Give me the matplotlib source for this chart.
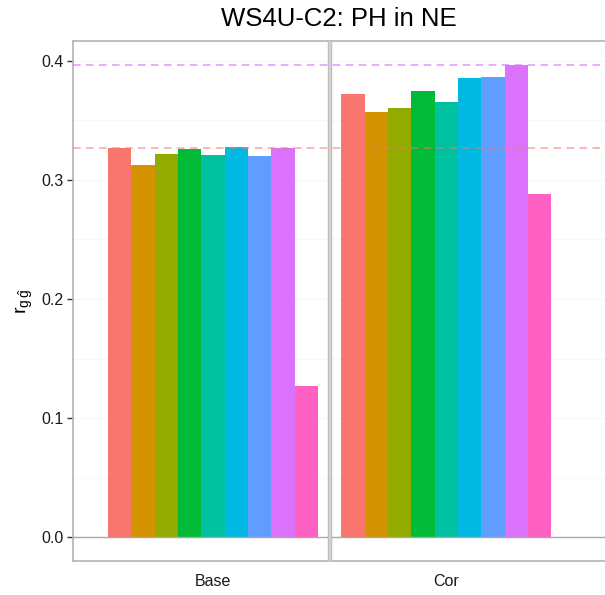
import matplotlib
matplotlib.use("Agg")
import matplotlib.pyplot as plt
import numpy as np

plt.rcParams['font.family'] = ['Liberation Sans', 'DejaVu Sans']
plt.rcParams['mathtext.fontset'] = 'custom'
plt.rcParams['mathtext.rm'] = 'Liberation Sans'

groups = ["Base", "Cor"]
colors = ['#F8766D', '#D39200', '#93AA00', '#00BA38', '#00C19F',
          '#00B9E3', '#619CFF', '#DB72FB', '#FF61C3']
base_vals = [0.3266, 0.3121, 0.3216, 0.3261, 0.3211, 0.3280, 0.3202, 0.3266, 0.1270]
cor_vals = [0.3721, 0.3567, 0.3604, 0.3749, 0.3654, 0.3855, 0.3866, 0.3967, 0.2879]
ref_base = 0.3266
ref_best = 0.3967

fig = plt.figure(figsize=(6.05, 5.95), dpi=100)
ax = fig.add_axes([73 / 605, 34 / 595, 1 - 73 / 605, (561 - 41) / 595])

n = len(colors)
w = 0.9 / n
for g, vals in enumerate([base_vals, cor_vals]):
    for i, v in enumerate(vals):
        x = g + 1 - 0.45 + w * (i + 0.5)
        ax.bar(x, v, width=w, color=colors[i], linewidth=0, zorder=2)

# faint grid
for y in np.arange(0.0, 0.45, 0.05):
    ax.axhline(y, color='#F7F7F7', lw=0.8, zorder=1)

ax.axhline(0, color='#A8A8A8', lw=1.0, zorder=3)
ax.axvline(1.5, color='#BEBEBE', lw=3.2, zorder=3)
ax.axvline(1.5, color='#D8D8D8', lw=1.2, zorder=3)

ax.axhline(ref_base, color='#F8766D', lw=1.1, ls=(0, (5, 3.5)), alpha=0.65, zorder=4)
ax.axhline(ref_best, color='#DB72FB', lw=1.1, ls=(0, (5, 3.5)), alpha=0.75, zorder=4)

ax.set_xlim(0.4, 2.68)
ax.set_ylim(-0.0199, 0.4166)
ax.set_xticks([1, 2])
ax.set_xticklabels(groups)
ax.set_yticks([0.0, 0.1, 0.2, 0.3, 0.4])
ax.set_yticklabels(['0.0', '0.1', '0.2', '0.3', '0.4'])
ax.tick_params(axis='x', length=0, pad=9, labelsize=11.5, colors='#1a1a1a')
ax.tick_params(axis='y', length=4, width=1, color='#333333', pad=3,
               labelsize=11.5, labelcolor='#1a1a1a')

for side in ['left', 'top', 'bottom']:
    ax.spines[side].set_color('#B3B3B3')
    ax.spines[side].set_linewidth(1.2)
ax.spines['right'].set_visible(False)

ax.set_ylabel(r'r$_{\mathrm{g}\,\hat{\mathrm{g}}}$', fontsize=14, labelpad=4)
fig.text(0.56, 1 - 19 / 595, 'WS4U-C2: PH in NE', fontsize=18.5,
         ha='center', va='center')

fig.savefig('out.png', dpi=100)
